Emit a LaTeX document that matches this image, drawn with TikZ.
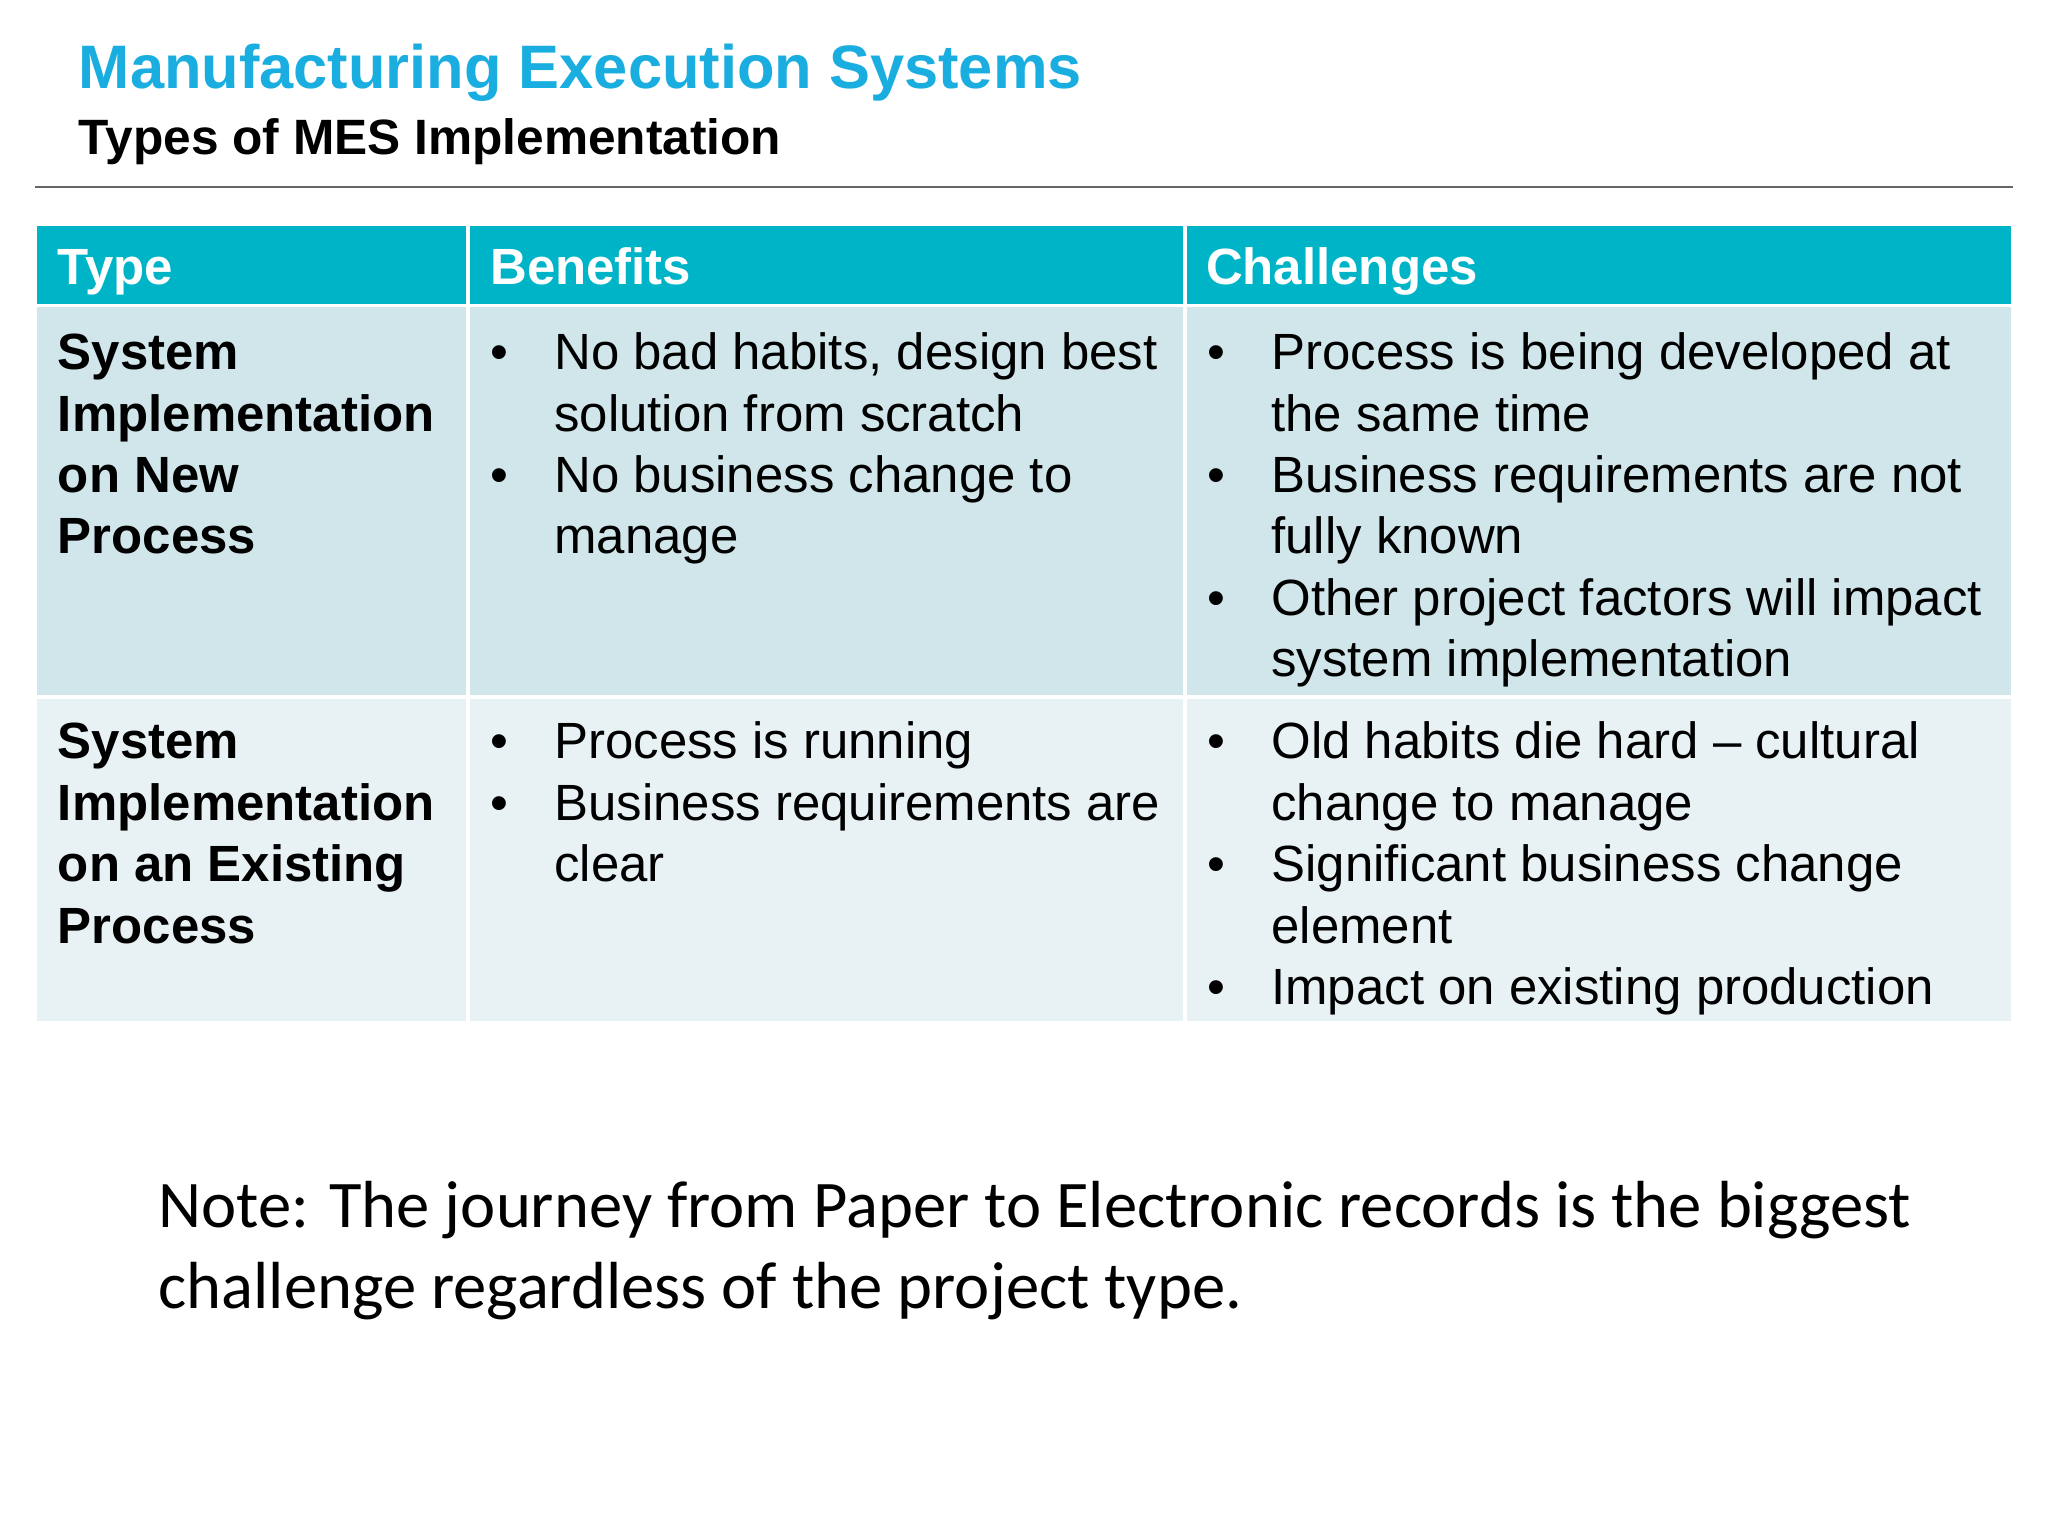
\documentclass[tikz,border=0pt]{standalone}
\usepackage{fontspec}
\setmainfont{Liberation Sans}
\newfontfamily\notefont{Carlito}
\definecolor{teal}{HTML}{00B4C8}
\definecolor{rowa}{HTML}{D0E6EA}
\definecolor{rowb}{HTML}{E8F2F4}
\definecolor{titleblue}{HTML}{1AAEE0}
\begin{document}
\begin{tikzpicture}[x=0.5pt,y=-0.5pt,
  txt/.style={anchor=base west,inner sep=0pt,font=\fontsize{19.5}{23}\selectfont},
  bold/.style={txt,font=\fontsize{19.5}{23}\selectfont\bfseries},
  head/.style={bold,text=white},
  bul/.style={anchor=base west,inner sep=0pt,font=\fontsize{19.5}{23}\selectfont}]
\useasboundingbox (0,0) rectangle (1568,1176);
\fill[white] (0,0) rectangle (1568,1176);
\node[anchor=base west,inner sep=0pt,text=titleblue,font=\fontsize{23.5}{28}\selectfont\bfseries] (title) at (60,68) {Manufacturing Execution Systems};
\node[anchor=base west,inner sep=0pt,font=\fontsize{19}{23}\selectfont\bfseries] (sub) at (60,118) {Types of MES Implementation};
\draw[gray!80!black,line width=0.6pt] (27,143) -- (1541,143);
% table
\fill[teal] (28,173) rectangle (1540,233);
\fill[rowa] (28,235) rectangle (1540,532);
\fill[rowb] (28,535) rectangle (1540,782);
\draw[white,line width=1.5pt] (358,173) -- (358,782) (907,173) -- (907,782);
\node[head] (h1) at (44,218) {Type};
\node[head] (h2) at (375,218) {Benefits};
\node[head] (h3) at (923,218) {Challenges};
% row 1
\node[bold] (t1a) at (44,283) {System};
\node[bold] (t1b) at (44,330) {Implementation};
\node[bold] (t1c) at (44,377) {on New};
\node[bold] (t1d) at (44,424) {Process};
\node[bul] (b1) at (375,283) {•};
\node[txt] (b1a) at (424,283) {No bad habits, design best};
\node[txt] (b1b) at (424,330) {solution from scratch};
\node[bul] (b2) at (375,377) {•};
\node[txt] (b2a) at (424,377) {No business change to};
\node[txt] (b2b) at (424,424) {manage};
\node[bul] (c1) at (924,283) {•};
\node[txt] (c1a) at (973,283) {Process is being developed at};
\node[txt] (c1b) at (973,330) {the same time};
\node[bul] (c2) at (924,377) {•};
\node[txt] (c2a) at (973,377) {Business requirements are not};
\node[txt] (c2b) at (973,424) {fully known};
\node[bul] (c3) at (924,471) {•};
\node[txt] (c3a) at (973,471) {Other project factors will impact};
\node[txt] (c3b) at (973,518) {system implementation};
% row 2
\node[bold] (t2a) at (44,581) {System};
\node[bold] (t2b) at (44,628) {Implementation};
\node[bold] (t2c) at (44,675) {on an Existing};
\node[bold] (t2d) at (44,722) {Process};
\node[bul] (b3) at (375,581) {•};
\node[txt] (b3a) at (424,581) {Process is running};
\node[bul] (b4) at (375,628) {•};
\node[txt] (b4a) at (424,628) {Business requirements are};
\node[txt] (b4b) at (424,675) {clear};
\node[bul] (c4) at (924,581) {•};
\node[txt] (c4a) at (973,581) {Old habits die hard – cultural};
\node[txt] (c4b) at (973,628) {change to manage};
\node[bul] (c5) at (924,675) {•};
\node[txt] (c5a) at (973,675) {Significant business change};
\node[txt] (c5b) at (973,722) {element};
\node[bul] (c6) at (924,769) {•};
\node[txt] (c6a) at (973,769) {Impact on existing production};
% note
\node[anchor=base west,inner sep=0pt,font=\notefont\fontsize{25.5}{31}\selectfont] (n1) at (121,940) {Note: The journey from Paper to Electronic records is the biggest};
\node[anchor=base west,inner sep=0pt,font=\notefont\fontsize{25.5}{31}\selectfont] (n2) at (121,1002) {challenge regardless of the project type.};
\end{tikzpicture}
\end{document}
